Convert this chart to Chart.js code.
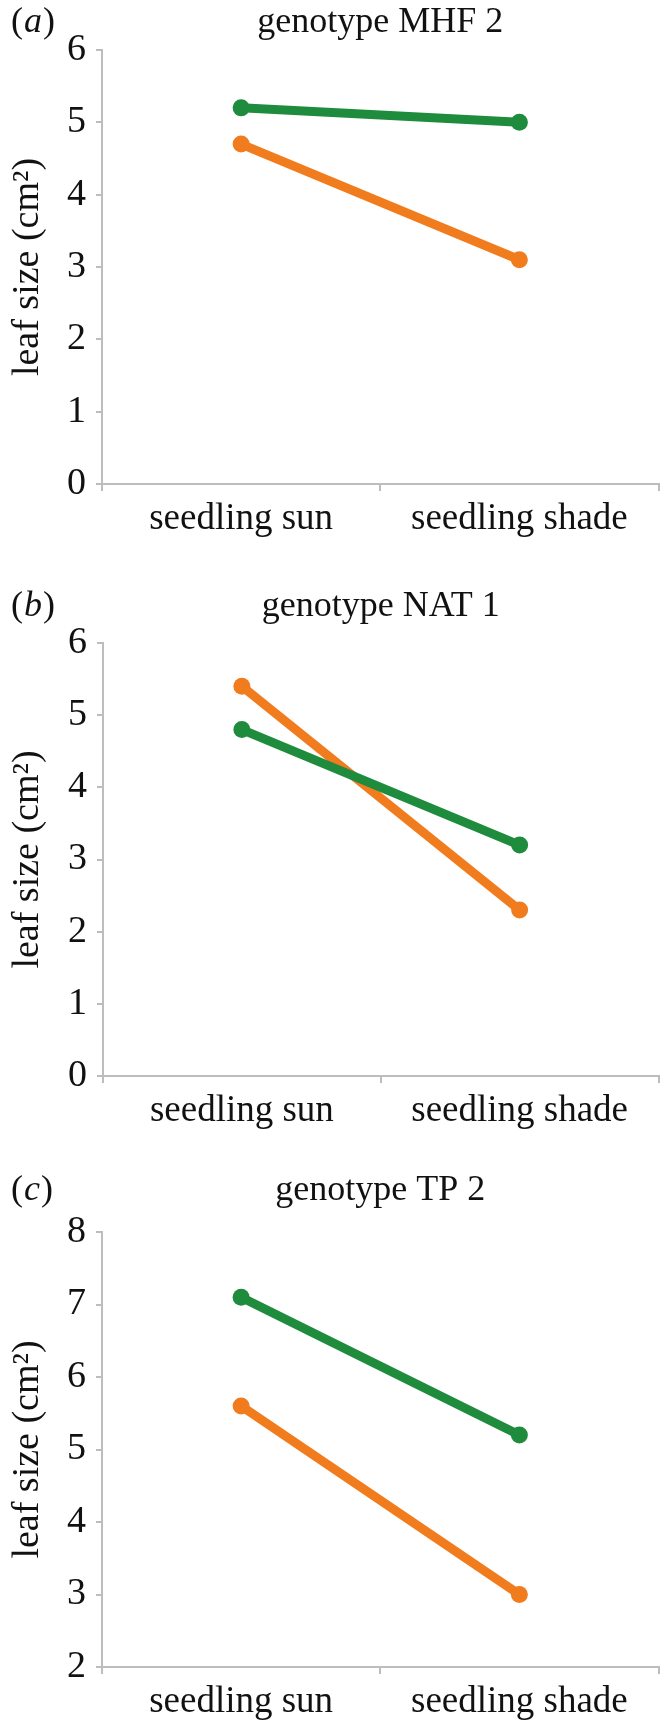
<!DOCTYPE html>
<html>
<head>
<meta charset="utf-8">
<script src="https://cdn.jsdelivr.net/npm/chart.js@4/dist/chart.umd.min.js"></script>
<style>
html, body { margin: 0; padding: 0; background: #ffffff; width: 667px; height: 1722px; overflow: hidden; }
.panel { position: absolute; left: 0; width: 667px; height: 580px; }
</style>
</head>
<body>
<div class="panel" style="top:-20px"><canvas id="chartA"></canvas></div>
<div class="panel" style="top:573px"><canvas id="chartB"></canvas></div>
<div class="panel" style="top:1162px"><canvas id="chartC"></canvas></div>
<script>
// ---- data ----
const categories = ['seedling sun', 'seedling shade'];
const panelLetters = ['a', 'b', 'c'];
const panelTitles = ['genotype MHF 2', 'genotype NAT 1', 'genotype TP 2'];
const yAxisTitle = 'leaf size (cm\u00B2)';

const greenA = [5.2, 5.0];
const orangeA = [4.7, 3.1];
const greenB = [4.8, 3.2];
const orangeB = [5.4, 2.3];
const greenC = [7.1, 5.2];
const orangeC = [5.6, 3.0];

const yMins = [0, 0, 2];
const yMaxs = [6, 6, 8];

// ---- styling ----
const GREEN = '#1f8b3d';
const ORANGE = '#f07c1e';
const AXIS = '#bdbdbd';
const FONT = "'Liberation Serif', 'Times New Roman', serif";
const TOP_PAD = 70;
const CANVAS_H = 580;

const panelTitle = {
  id: 'panelTitle',
  afterDraw(chart, args, opts) {
    const ctx = chart.ctx;
    const ca = chart.chartArea;
    ctx.save();
    ctx.fillStyle = '#111111';
    ctx.textBaseline = 'alphabetic';
    ctx.font = '36px ' + FONT;
    ctx.textAlign = 'center';
    ctx.fillText(opts.text, (ca.left + ca.right) / 2, opts.baseline);
    ctx.textAlign = 'left';
    let x = 11;
    ctx.font = '36px ' + FONT;
    ctx.fillText('(', x, opts.baseline);
    x += ctx.measureText('(').width + 1;
    ctx.font = 'italic 36px ' + FONT;
    ctx.fillText(opts.letter, x, opts.baseline);
    x += ctx.measureText(opts.letter).width + 1;
    ctx.font = '36px ' + FONT;
    ctx.fillText(')', x, opts.baseline);
    ctx.restore();
  }
};

function makeChart(id, idx, green, orange, yAxisW, plotH, titleBaseline) {
  return new Chart(document.getElementById(id), {
    type: 'line',
    data: {
      labels: categories,
      datasets: [
        { label: 'green', data: green, borderColor: GREEN, backgroundColor: GREEN,
          pointBackgroundColor: GREEN, pointBorderColor: GREEN, borderWidth: 9,
          pointRadius: 8.5, pointBorderWidth: 0, fill: false, tension: 0 },
        { label: 'orange', data: orange, borderColor: ORANGE, backgroundColor: ORANGE,
          pointBackgroundColor: ORANGE, pointBorderColor: ORANGE, borderWidth: 9,
          pointRadius: 8.5, pointBorderWidth: 0, fill: false, tension: 0 }
      ]
    },
    options: {
      responsive: true,
      maintainAspectRatio: false,
      animation: false,
      events: [],
      layout: { padding: { top: TOP_PAD, left: 0, right: 8, bottom: 0 } },
      plugins: {
        legend: { display: false },
        tooltip: { enabled: false },
        title: { display: false },
        panelTitle: { text: panelTitles[idx], letter: panelLetters[idx], baseline: titleBaseline }
      },
      scales: {
        x: {
          type: 'category',
          offset: true,
          grid: { display: true, offset: true, drawOnChartArea: false, drawTicks: true,
                  tickLength: 7, color: AXIS, lineWidth: 2 },
          border: { display: true, color: AXIS, width: 2 },
          ticks: { color: '#111111', font: { family: FONT, size: 37 }, padding: 6,
                   maxRotation: 0, autoSkip: false },
          afterFit(scale) { scale.height = CANVAS_H - TOP_PAD - plotH; }
        },
        y: {
          min: yMins[idx],
          max: yMaxs[idx],
          ticks: { stepSize: 1, color: '#111111', font: { family: FONT, size: 38 }, padding: 10 },
          grid: { display: true, drawOnChartArea: false, drawTicks: true, tickLength: 6,
                  color: AXIS, lineWidth: 2 },
          border: { display: true, color: AXIS, width: 2 },
          title: { display: true, text: yAxisTitle, color: '#111111',
                   font: { family: FONT, size: 38 }, padding: { top: 5, bottom: 0 } },
          afterFit(scale) { scale.width = yAxisW; }
        }
      }
    },
    plugins: [panelTitle]
  });
}

function build() {
  makeChart('chartA', 0, greenA, orangeA, 102, 434, 52);
  makeChart('chartB', 1, greenB, orangeB, 103, 433, 43);
  makeChart('chartC', 2, greenC, orangeC, 102, 435, 38);
}

if (document.fonts && document.fonts.load) {
  Promise.all([
    document.fonts.load("37px 'Liberation Serif'"),
    document.fonts.load("italic 36px 'Liberation Serif'")
  ]).then(build, build);
} else {
  build();
}
</script>
</body>
</html>
